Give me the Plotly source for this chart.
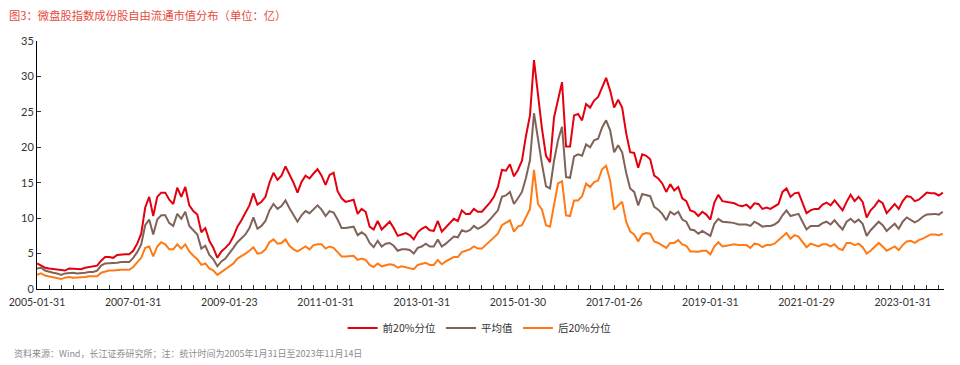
import pandas as pd
import plotly.graph_objects as go

# ---- data (monthly, 2005-01 .. 2023-11) ----
top20 = [
    3.6, 3.3, 3.0, 2.9, 2.8, 2.8, 2.6, 2.6, 2.9, 2.9, 2.8, 2.8,
    3.0, 3.1, 3.2, 3.3, 4.0, 4.5, 4.5, 4.4, 4.8, 4.9, 4.9, 4.9,
    5.4, 6.4, 7.8, 11.5, 13.0, 10.3, 13.0, 13.6, 13.6, 12.6, 12.0, 14.3,
    13.0, 14.4, 11.8, 11.0, 10.5, 8.0, 8.6, 6.8, 5.8, 4.4, 5.3, 5.8,
    6.4, 7.4, 8.8, 9.7, 10.8, 11.8, 13.5, 11.9, 12.3, 13.0, 15.0, 16.4,
    15.4, 16.0, 17.3, 16.2, 15.0, 13.6, 15.1, 16.0, 15.6, 16.3, 16.9, 16.0,
    14.7, 16.1, 16.4, 13.8, 12.8, 12.3, 12.4, 12.6, 10.6, 11.3, 10.9, 8.8,
    8.4, 9.6, 8.4, 8.9, 9.5, 8.6, 7.5, 7.7, 7.9, 7.6, 7.0, 8.0,
    8.5, 8.8, 8.3, 8.2, 9.6, 8.1, 8.7, 9.3, 9.9, 9.6, 11.1, 10.6,
    10.6, 11.3, 10.9, 10.9, 11.5, 12.2, 13.0, 14.4, 16.8, 16.7, 17.6, 15.9,
    16.8, 18.1, 21.6, 24.5, 32.3, 27.3, 22.6, 18.8, 17.9, 24.2, 26.8, 29.2,
    20.1, 20.1, 24.5, 24.7, 23.8, 26.1, 25.6, 26.6, 27.1, 28.5, 29.8, 28.0,
    25.6, 26.7, 25.6, 22.0, 19.3, 19.2, 17.1, 19.0, 18.8, 18.3, 16.0, 15.6,
    14.9, 13.7, 14.8, 13.9, 14.4, 12.8, 12.4, 11.1, 10.9, 10.3, 10.9, 10.5,
    9.8, 12.2, 13.3, 12.4, 12.3, 12.3, 12.1, 11.8, 11.7, 11.9, 11.4, 12.1,
    12.0, 11.3, 11.5, 11.3, 11.7, 12.0, 13.7, 14.2, 13.0, 13.5, 13.6, 12.0,
    10.7, 11.1, 11.3, 11.3, 11.9, 12.2, 11.8, 12.5, 11.8, 11.1, 12.3, 13.3,
    12.4, 13.0, 12.3, 10.1, 11.1, 11.7, 12.5, 12.1, 10.7, 11.3, 12.0, 11.3,
    12.4, 13.1, 13.0, 12.4, 12.6, 13.1, 13.6, 13.5, 13.5, 13.2, 13.6,
]
mean_val = [
    2.9, 3.0, 2.6, 2.4, 2.3, 2.2, 2.0, 2.2, 2.3, 2.3, 2.2, 2.2,
    2.3, 2.4, 2.4, 2.6, 3.3, 3.6, 3.6, 3.6, 3.7, 3.8, 3.8, 3.8,
    4.4, 5.2, 6.3, 9.0, 9.8, 7.7, 9.8, 10.4, 10.4, 9.3, 8.9, 10.6,
    9.9, 10.9, 8.9, 8.3, 7.7, 5.7, 6.1, 4.8, 4.2, 3.2, 3.9, 4.3,
    5.0, 5.8, 6.6, 7.2, 7.7, 8.6, 10.1, 8.5, 8.9, 9.6, 11.1, 12.0,
    11.3, 11.7, 12.5, 11.4, 10.4, 9.5, 10.4, 11.0, 10.7, 11.2, 11.8, 11.2,
    10.3, 11.0, 10.8, 9.8, 8.6, 8.6, 8.7, 8.8, 7.6, 8.0, 7.6, 6.5,
    5.9, 6.8, 6.0, 6.4, 6.5, 6.1, 5.4, 5.6, 5.6, 5.5, 5.0, 5.8,
    6.0, 6.4, 6.0, 6.0, 7.0, 6.0, 6.4, 6.9, 7.4, 7.3, 8.3, 8.1,
    8.3, 8.9, 8.5, 8.8, 9.2, 9.8, 10.4, 11.1, 13.0, 13.2, 13.7, 12.0,
    12.8, 13.7, 15.7, 18.2, 24.8, 21.0, 17.6, 14.5, 14.2, 18.1, 21.0, 22.9,
    15.8, 15.7, 18.7, 19.0, 18.8, 20.4, 20.0, 21.0, 21.2, 22.8, 23.8, 22.4,
    19.3, 20.3, 19.3, 16.4, 14.2, 13.7, 11.8, 13.4, 13.3, 13.1, 11.6, 11.2,
    10.6, 9.7, 10.9, 10.5, 10.9, 9.8, 9.5, 8.4, 8.3, 7.8, 8.2, 7.9,
    7.5, 9.2, 9.9, 9.5, 9.5, 9.4, 9.3, 9.1, 9.1, 9.1, 8.9, 9.5,
    9.2, 8.8, 8.9, 8.9, 9.1, 9.5, 10.4, 11.1, 10.3, 10.5, 10.6, 9.5,
    8.4, 8.9, 8.9, 8.9, 9.3, 9.5, 9.1, 9.7, 9.0, 8.4, 9.5, 9.9,
    9.4, 9.8, 9.2, 7.5, 8.3, 8.9, 9.5, 9.0, 8.2, 8.7, 9.2, 8.5,
    9.5, 10.1, 9.8, 9.4, 9.7, 10.2, 10.5, 10.6, 10.6, 10.5, 10.9,
]
bottom20 = [
    2.0, 2.2, 1.9, 1.8, 1.7, 1.6, 1.4, 1.6, 1.7, 1.6, 1.6, 1.6,
    1.7, 1.8, 1.8, 1.8, 2.3, 2.5, 2.6, 2.6, 2.7, 2.7, 2.7, 2.7,
    3.1, 3.7, 4.4, 5.8, 6.0, 4.6, 6.0, 6.6, 6.3, 5.6, 5.6, 6.3,
    5.7, 6.3, 5.3, 4.7, 4.2, 3.4, 3.6, 2.9, 2.6, 2.0, 2.4, 2.8,
    3.1, 3.6, 4.3, 4.6, 5.0, 5.4, 5.9, 5.0, 5.1, 5.6, 6.6, 7.0,
    6.4, 6.5, 7.0, 6.1, 5.6, 5.3, 5.6, 6.0, 5.6, 6.2, 6.3, 6.3,
    5.7, 6.0, 5.8, 5.2, 4.6, 4.6, 4.7, 4.7, 4.1, 4.3, 4.1, 3.4,
    3.1, 3.6, 3.2, 3.4, 3.5, 3.4, 3.0, 3.2, 3.1, 3.0, 2.8, 3.4,
    3.5, 3.7, 3.4, 3.4, 4.1, 3.5, 3.9, 4.2, 4.5, 4.5, 5.2, 5.4,
    5.6, 6.0, 5.7, 5.7, 6.2, 6.7, 7.3, 7.8, 9.0, 9.3, 9.7, 8.1,
    8.8, 9.0, 10.2, 11.3, 16.8, 12.0, 11.2, 9.0, 8.8, 11.6, 14.9, 15.2,
    10.4, 10.3, 12.5, 12.5, 13.1, 14.9, 14.4, 15.1, 15.3, 16.9, 17.4, 15.3,
    11.2, 11.8, 12.3, 9.5, 8.1, 7.7, 6.7, 7.7, 7.9, 7.8, 6.7, 6.5,
    6.2, 5.8, 6.5, 6.5, 6.9, 6.3, 6.1, 5.3, 5.3, 5.25, 5.4, 5.4,
    4.9, 6.0, 6.6, 6.0, 6.1, 6.2, 6.3, 6.2, 6.2, 6.2, 5.8, 6.4,
    6.3, 5.9, 6.2, 6.2, 6.4, 6.9, 7.3, 7.9, 7.1, 7.6, 7.4, 6.7,
    5.9, 6.4, 6.2, 6.0, 6.3, 6.3, 6.0, 6.3, 5.7, 5.5, 6.5, 6.5,
    6.2, 6.4, 5.9, 5.0, 5.4, 6.0, 6.5, 6.0, 5.4, 5.7, 6.0, 5.5,
    6.2, 6.7, 6.8, 6.5, 6.9, 7.1, 7.4, 7.7, 7.7, 7.6, 7.8,
]
tick_labels = ["2005-01-31", "2007-01-31", "2009-01-23", "2011-01-31", "2013-01-31",
               "2015-01-30", "2017-01-26", "2019-01-31", "2021-01-29", "2023-01-31"]
series_names = ["前20%分位", "平均值", "后20%分位"]

# category labels (month ends); labelled months use their actual dates
dates = [d.strftime("%Y-%m-%d") for d in pd.date_range("2005-01-31", periods=len(top20), freq="ME")]
for k, lab in enumerate(tick_labels):
    dates[k * 24] = lab

colors = ["#E3000F", "#7F6358", "#FF7A14"]
fig = go.Figure()
for name, vals, col in zip(series_names, [top20, mean_val, bottom20], colors):
    fig.add_trace(go.Scatter(x=dates, y=vals, mode="lines", name=name,
                             line=dict(color=col, width=2)))

tickvals = dates[::3]
ticktext = [d if d in tick_labels else "" for d in tickvals]

font_main = "Lato, 'Noto Sans CJK SC', sans-serif"
fig.update_layout(
    width=960, height=365,
    margin=dict(l=37, r=16, t=41, b=76, autoexpand=False),
    paper_bgcolor="white", plot_bgcolor="white",
    font=dict(family=font_main, size=10, color="#333333"),
    showlegend=True,
    legend=dict(orientation="h", x=0.488, xanchor="center", y=-0.157, yanchor="middle",
                font=dict(size=10.5, color="#333333", family="'Noto Sans CJK SC', sans-serif"),
                itemwidth=30, tracegroupgap=0, bgcolor="rgba(0,0,0,0)"),
    xaxis=dict(type="category", range=[0, len(top20) - 0.7], automargin=False,
               tickmode="array", tickvals=tickvals, ticktext=ticktext,
               ticks="inside", ticklen=4, tickcolor="#333333", tickangle=0,
               ticklabelstandoff=3,
               showline=True, linecolor="#000000", linewidth=1,
               showgrid=False, zeroline=False,
               tickfont=dict(size=10.5, color="#333333")),
    yaxis=dict(range=[0, 35], dtick=5, tick0=0, automargin=False,
               ticks="inside", ticklen=4, tickcolor="#333333",
               showline=True, linecolor="#000000", linewidth=1,
               showgrid=False, zeroline=False,
               tickfont=dict(size=11, color="#333333")),
    annotations=[
        dict(text="图3：微盘股指数成份股自由流通市值分布（单位：亿）",
             xref="paper", yref="paper", x=-0.033, y=1.105, xanchor="left", yanchor="middle",
             showarrow=False,
             font=dict(size=11.3, color="#E64A3B", family="'Noto Sans CJK SC', sans-serif")),
        dict(text="资料来源：Wind，长江证券研究所；注：统计时间为2005年1月31日至2023年11月14日",
             xref="paper", yref="paper", x=-0.028, y=-0.262, xanchor="left", yanchor="middle",
             showarrow=False,
             font=dict(size=9, color="#8C8C8C", family="'Noto Sans CJK SC', sans-serif")),
    ],
)

fig.write_html("out.html", config={"displayModeBar": False},
               post_script="document.body.style.margin='0px';")
